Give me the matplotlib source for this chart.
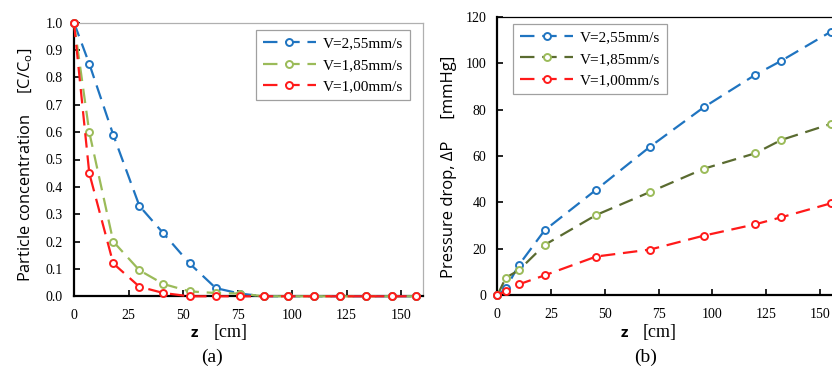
import matplotlib.pyplot as plt

# panel (a): particle concentration
z_a = [0, 7, 18, 30, 41, 53, 65, 76, 87, 98, 110, 122, 134, 146, 157]
c_255 = [1.0, 0.85, 0.59, 0.33, 0.23, 0.12, 0.03, 0.01, 0.0, 0.0, 0.0, 0.0, 0.0, 0.0, 0.0]
c_185 = [1.0, 0.60, 0.20, 0.095, 0.045, 0.018, 0.012, 0.01, 0.0, 0.0, 0.0, 0.0, 0.0, 0.0, 0.0]
c_100 = [1.0, 0.45, 0.12, 0.035, 0.012, 0.0, 0.0, 0.0, 0.0, 0.0, 0.0, 0.0, 0.0, 0.0, 0.0]

# panel (b): pressure drop
z_b = [0, 4, 10, 22, 46, 71, 96, 120, 132, 155]
p_255 = [0, 3, 13, 28, 45.5, 64, 81, 95, 101, 113.5]
p_185 = [0, 7.6, 10.8, 21.7, 34.6, 44.5, 54.5, 61.2, 66.9, 73.8]
p_100 = [0, 1.9, 4.7, 8.6, 16.7, 19.7, 25.7, 30.6, 33.6, 39.6]

labels = ["V=2,55mm/s", "V=1,85mm/s", "V=1,00mm/s"]
x_ticks = [0, 25, 50, 75, 100, 125, 150]

BLUE = "#1f74c0"
LGREEN = "#9bbb59"
OLIVE = "#5a6b30"
RED = "#ff1a1a"

SERIF = "Liberation Serif"
SANS = "Open Sans"


def draw(ax, x, y, line_col, mark_col, label):
	ax.plot(x, y, color=line_col, lw=1.6, dashes=(6.5, 3.5), marker="o", ms=5,
		mfc="white", mec=mark_col, mew=1.4, label=label, clip_on=False, zorder=3)


def style(ax, top_col):
	for s in ("left", "bottom"):
		ax.spines[s].set_linewidth(1.6)
		ax.spines[s].set_color("black")
	ax.spines["top"].set_color(top_col)
	ax.spines["top"].set_linewidth(0.9)
	ax.spines["right"].set_color(top_col)
	ax.spines["right"].set_linewidth(0.9)
	ax.tick_params(direction="in", length=4, width=1.2, top=False, right=False)
	ax.tick_params(axis="x", pad=9)
	ax.tick_params(axis="y", pad=8)
	for t in ax.get_xticklabels() + ax.get_yticklabels():
		t.set_fontfamily(SERIF)
		t.set_fontsize(10)


def legend(ax, loc, anchor):
	leg = ax.legend(loc=loc, bbox_to_anchor=anchor, borderaxespad=0, fancybox=False,
		edgecolor="#a0a0a0", prop={"family": SERIF, "size": 11}, handlelength=3.5,
		borderpad=0.45, labelspacing=0.5, handletextpad=0.45, framealpha=1)
	leg.get_frame().set_linewidth(0.9)
	return leg


fig = plt.figure(figsize=(8.32, 3.73), dpi=100)

ax1 = fig.add_axes([74 / 832, 1 - 296.3 / 373, 349 / 832, (296.3 - 22.7) / 373])
draw(ax1, z_a, c_255, BLUE, BLUE, labels[0])
draw(ax1, z_a, c_185, LGREEN, LGREEN, labels[1])
draw(ax1, z_a, c_100, RED, RED, labels[2])
ax1.set_xlim(0, 160)
ax1.set_ylim(0, 1.0)
ax1.set_xticks(x_ticks)
ax1.set_yticks([i / 10 for i in range(11)])
ax1.set_yticklabels([f"{i / 10:.1f}" for i in range(11)])
style(ax1, "#b0b0b0")
ax1.set_ylabel("Particle concentration     [C/C$_\\mathregular{o}$]", fontfamily=SANS,
	fontsize=11.8)
ax1.yaxis.set_label_coords(-0.113, 0.48)
legend(ax1, "upper right", (0.963, 0.973))

ax2 = fig.add_axes([497.3 / 832, 1 - 295.3 / 373, (832 - 497.3) / 832, (295.3 - 16.7) / 373])
draw(ax2, z_b, p_255, BLUE, BLUE, labels[0])
draw(ax2, z_b, p_185, OLIVE, LGREEN, labels[1])
draw(ax2, z_b, p_100, RED, RED, labels[2])
ax2.set_xlim(0, 155.6)
ax2.set_ylim(0, 120)
ax2.set_xticks(x_ticks)
ax2.set_yticks(range(0, 121, 20))
style(ax2, "black")
ax2.spines["right"].set_visible(False)
ax2.set_ylabel("Pressure drop, ΔP     [mmHg]", fontfamily=SANS, fontsize=12)
ax2.yaxis.set_label_coords(-0.119, 0.46)
legend(ax2, "upper left", (0.047, 0.974))

# x labels and panel tags (pixel centres)
for zx, cmx, tagx, tag in ((194, 231, 212, "(a)"), (624, 660, 646, "(b)")):
	fig.text(zx / 832, 1 - 333 / 373, "z", fontfamily=SANS, fontweight="bold",
		fontsize=11, ha="center", va="center")
	fig.text(cmx / 832, 1 - 332 / 373, "[cm]", fontfamily=SERIF, fontsize=13,
		ha="center", va="center")
	fig.text(tagx / 832, 1 - 357 / 373, tag, fontfamily=SERIF, fontsize=14,
		ha="center", va="center")

fig.savefig("out.png", dpi=100)
